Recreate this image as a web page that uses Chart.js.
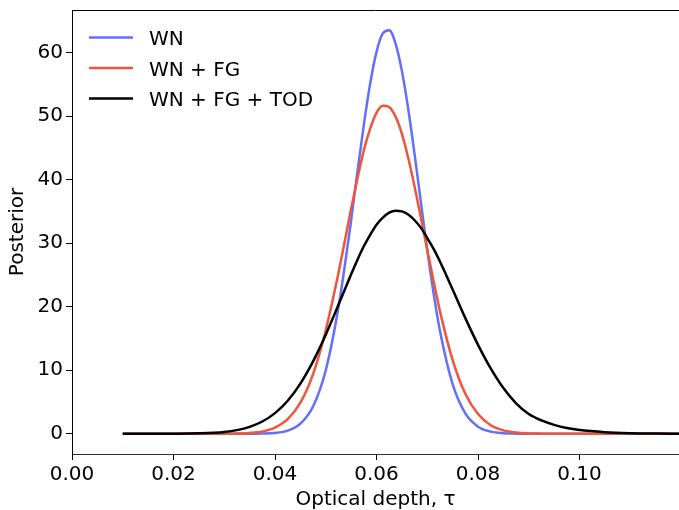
<!DOCTYPE html>
<html>
<head>
<meta charset="utf-8">
<script src="https://cdn.jsdelivr.net/npm/chart.js@4.4.1/dist/chart.umd.min.js"></script>
<style>
  html, body { margin: 0; padding: 0; background: #fff; overflow: hidden; }
  #posterior { display: block; }
</style>
</head>
<body>
<canvas id="posterior" width="679" height="510"></canvas>
<script>
const tau = [0.010, 0.015, 0.020, 0.025, 0.030, 0.0325, 0.035, 0.0375, 0.040, 0.0425, 0.045, 0.0475,
  0.050, 0.0525, 0.055, 0.05625, 0.0575, 0.05875, 0.060, 0.06125, 0.0625, 0.06375, 0.065, 0.06625,
  0.0675, 0.06875, 0.070, 0.07125, 0.0725, 0.075, 0.0775, 0.080, 0.0825, 0.085, 0.0875, 0.090,
  0.0925, 0.095, 0.0975, 0.100, 0.105, 0.110, 0.115, 0.120]
const wn = [0, 0, 0, 0, 0, 0, 0, 0.03, 0.13, 0.5, 1.6, 4.3,
  10.0, 19.9, 33.6, 41.3, 48.6, 55.1, 60.1, 63.0, 63.5, 61.4, 57.1, 51.1,
  44.0, 36.4, 28.9, 22.1, 16.2, 7.8, 3.2, 1.12, 0.34, 0.09, 0.02, 0,
  0, 0, 0, 0, 0, 0, 0, 0]
const wnFg = [0, 0, 0, 0, 0.01, 0.04, 0.13, 0.37, 0.98, 2.3, 4.9, 9.4,
  16.3, 25.3, 35.4, 40.2, 44.6, 48.0, 50.5, 51.6, 51.4, 49.9, 47.2, 43.4,
  38.9, 34.0, 28.9, 24.0, 19.3, 11.6, 6.3, 3.1, 1.35, 0.53, 0.19, 0.06,
  0.02, 0, 0, 0, 0, 0, 0, 0]
const wnFgTod = [0, 0, 0.01, 0.07, 0.29, 0.58, 1.09, 1.93, 3.25, 5.2, 7.9, 11.4,
  15.6, 20.3, 25.1, 27.4, 29.5, 31.3, 32.9, 34.0, 34.8, 35.1, 35.0, 34.5,
  33.6, 32.4, 30.8, 29.1, 27.1, 22.7, 18.2, 14.0, 10.3, 7.2, 4.8, 3.1,
  2.1, 1.4, 0.9, 0.58, 0.25, 0.1, 0.04, 0.015]
const seriesLabels = ['WN', 'WN + FG', 'WN + FG + TOD']
const xTicks = [0, 0.02, 0.04, 0.06, 0.08, 0.10]
const yTicks = [0, 10, 20, 30, 40, 50, 60]

const FONT = 'DejaVu Sans'

function toPoints(vals){
    return tau.map(function(t, i){ return {x: t, y: vals[i]} })
}

// top spine and the frameless legend in the upper left corner
const frame = {
    id: 'frame',
    afterDraw(chart){
        const ctx = chart.ctx
        const area = chart.chartArea
        ctx.save()
        ctx.strokeStyle = '#000'
        ctx.lineWidth = 1
        ctx.beginPath()
        ctx.moveTo(area.left, area.top + 0.5)
        ctx.lineTo(area.right, area.top + 0.5)
        ctx.stroke()

        ctx.font = '20px "' + FONT + '"'
        ctx.textBaseline = 'alphabetic'
        ctx.textAlign = 'left'
        chart.data.datasets.forEach(function(ds, i){
            let y = 37.5 + i * 30.5
            ctx.strokeStyle = ds.borderColor
            ctx.lineWidth = 2.5
            ctx.beginPath()
            ctx.moveTo(89, y)
            ctx.lineTo(133, y)
            ctx.stroke()
            ctx.fillStyle = '#000'
            ctx.fillText(ds.label, 149, y + 7.5)
        })
        ctx.restore()
    }
}

const ctx = document.getElementById('posterior')
const posterior = new Chart(ctx, {
    type: 'line',
    data: {
        datasets: [{
            label: seriesLabels[0],
            data: toPoints(wn),
            borderColor: '#636EFA',
            order: 3
        }, {
            label: seriesLabels[1],
            data: toPoints(wnFg),
            borderColor: '#EF553B',
            order: 2
        }, {
            label: seriesLabels[2],
            data: toPoints(wnFgTod),
            borderColor: '#000000',
            order: 1
        }]
    },
    options: {
        responsive: false,
        animation: false,
        layout: { padding: { top: 10, right: 0, left: 0, bottom: 0 } },
        elements: {
            point: { radius: 0 },
            line: { borderWidth: 2.5, fill: false, cubicInterpolationMode: 'monotone' }
        },
        plugins: {
            legend: { display: false },
            tooltip: { enabled: false }
        },
        scales: {
            x: {
                type: 'linear',
                min: 0,
                max: 0.1196,
                afterBuildTicks: function(scale){
                    scale.ticks = xTicks.map(function(v){ return {value: v} })
                },
                afterFit: function(scale){
                    scale.height = 56
                    scale.paddingLeft = 0
                    scale.paddingRight = 0
                },
                grid: { drawOnChartArea: false, tickLength: 6, tickColor: '#000' },
                border: { color: '#333', width: 1 },
                ticks: {
                    color: '#000',
                    padding: 3,
                    maxRotation: 0,
                    font: { family: FONT, size: 20 },
                    callback: function(v){ return Number(v).toFixed(2) }
                },
                title: {
                    display: true,
                    text: 'Optical depth, τ',
                    color: '#000',
                    font: { family: FONT, size: 20, lineHeight: 1 },
                    padding: { top: 0, bottom: 0 }
                }
            },
            y: {
                min: -3.18,
                max: 66.68,
                afterBuildTicks: function(scale){
                    scale.ticks = yTicks.map(function(v){ return {value: v} })
                },
                afterFit: function(scale){
                    scale.width = 72
                    scale.paddingTop = 0
                    scale.paddingBottom = 0
                },
                grid: { drawOnChartArea: false, tickLength: 6, tickColor: '#000' },
                border: { color: '#000', width: 1 },
                ticks: {
                    color: '#000',
                    padding: 3,
                    font: { family: FONT, size: 20 }
                },
                title: {
                    display: true,
                    text: 'Posterior',
                    color: '#000',
                    font: { family: FONT, size: 20, lineHeight: 1.2 },
                    padding: { top: 6, bottom: 0 }
                }
            }
        }
    },
    plugins: [frame]
})
</script>
</body>
</html>
